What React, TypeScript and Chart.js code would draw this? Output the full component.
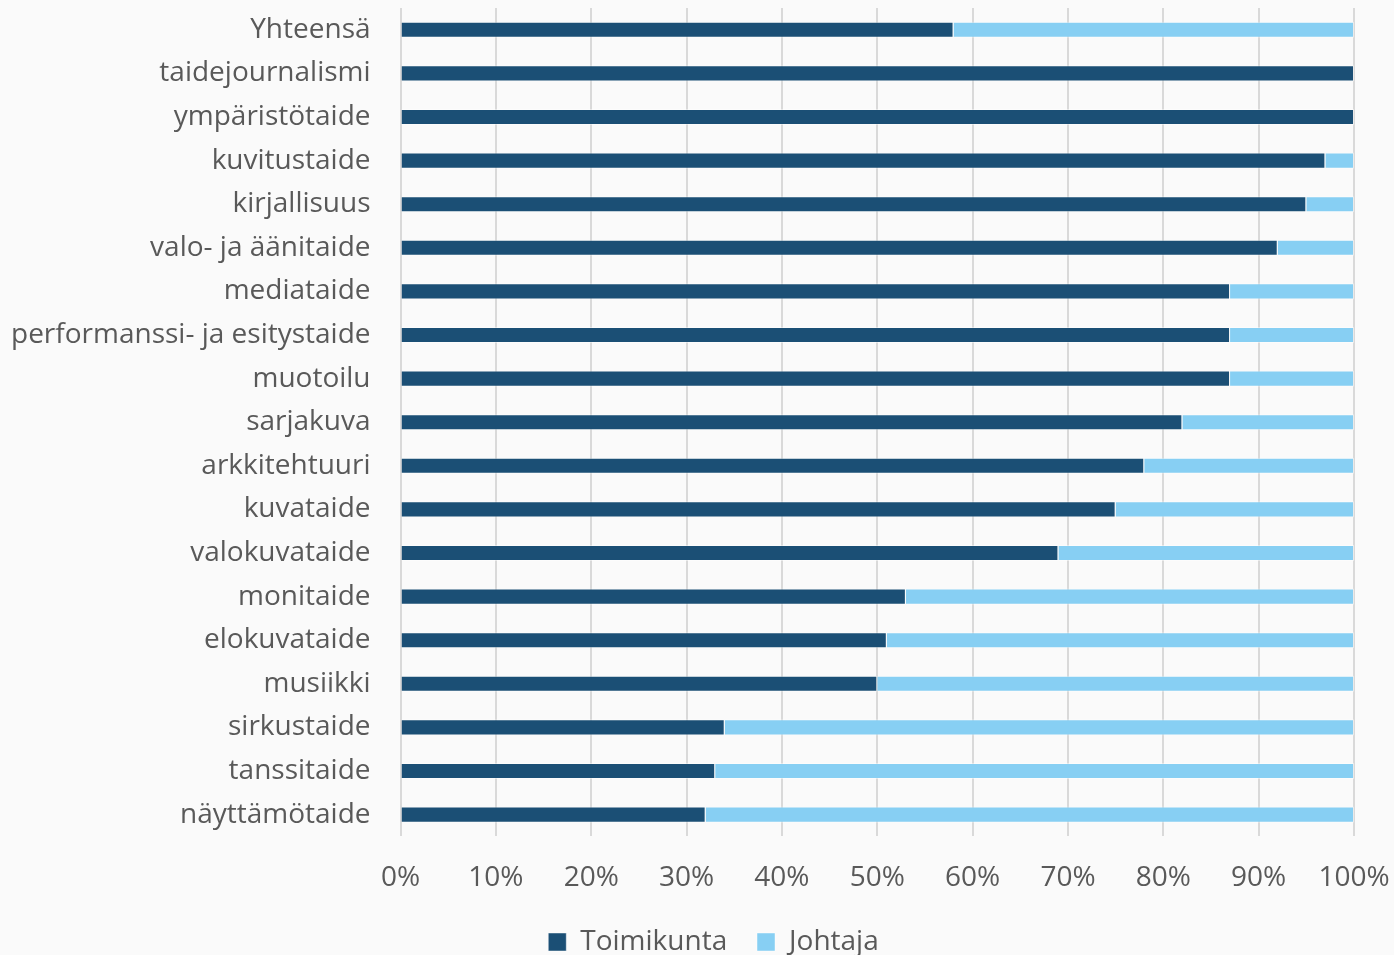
import React, { useEffect, useRef } from "react";
import { Chart, registerables } from "chart.js";

Chart.register(...registerables);

const categories = [
  "Yhteensä",
  "taidejournalismi",
  "ympäristötaide",
  "kuvitustaide",
  "kirjallisuus",
  "valo- ja äänitaide",
  "mediataide",
  "performanssi- ja esitystaide",
  "muotoilu",
  "sarjakuva",
  "arkkitehtuuri",
  "kuvataide",
  "valokuvataide",
  "monitaide",
  "elokuvataide",
  "musiikki",
  "sirkustaide",
  "tanssitaide",
  "näyttämötaide",
];

const toimikunta = [58, 100, 100, 97, 95, 92, 87, 87, 87, 82, 78, 75, 69, 53, 51, 50, 34, 33, 32];
const johtaja = [42, 0, 0, 3, 5, 8, 13, 13, 13, 18, 22, 25, 31, 47, 49, 50, 66, 67, 68];

const seriesNames = ["Toimikunta", "Johtaja"];
const xTicks = [0, 10, 20, 30, 40, 50, 60, 70, 80, 90, 100];

const legendShift = {
  id: "legendShift",
  afterLayout(chart: any) {
    const lg = chart.legend;
    if (lg) {
      lg.left += 31;
      lg.right += 31;
    }
  },
};

export default function App() {
  const ref = useRef<HTMLCanvasElement | null>(null);

  useEffect(() => {
    document.body.style.margin = "0";
    document.body.style.background = "#fafafa";
    if (!ref.current) return;
    const chart = new Chart(ref.current, {
      type: "bar",
      data: {
        labels: categories,
        datasets: [
          {
            label: seriesNames[0],
            data: toimikunta,
            backgroundColor: "#1b4f75",
            borderColor: "rgba(255,255,255,0.45)",
            borderWidth: 1,
            barPercentage: 0.37,
            categoryPercentage: 1,
          },
          {
            label: seriesNames[1],
            data: johtaja,
            backgroundColor: "#87cff3",
            borderColor: "rgba(255,255,255,0.45)",
            borderWidth: 1,
            barPercentage: 0.37,
            categoryPercentage: 1,
          },
        ],
      },
      plugins: [legendShift],
      options: {
        indexAxis: "y",
        animation: false,
        responsive: false,
        maintainAspectRatio: false,
        layout: { padding: { top: 8, right: 40, left: 11, bottom: -11 } },
        scales: {
          x: {
            stacked: true,
            min: 0,
            max: 100,
            afterBuildTicks: (axis: any) => {
              axis.ticks = xTicks.map((v) => ({ value: v }));
            },
            afterFit: (axis: any) => {
              axis.paddingLeft = 0;
              axis.paddingRight = 0;
            },
            ticks: {
              callback: (v: any) => v + "%",
              color: "#595959",
              font: { family: "Open Sans", size: 28 },
              padding: 25,
            },
            grid: { color: "#d9d9d9", lineWidth: 2, drawTicks: false },
            border: { display: false },
          },
          y: {
            stacked: true,
            afterFit: (axis: any) => {
              axis.paddingTop = 0;
              axis.paddingBottom = 0;
            },
            ticks: {
              color: "#595959",
              font: { family: "Open Sans", size: 28 },
              padding: 0,
              autoSkip: false,
            },
            grid: { display: false, drawTicks: true, tickLength: 30 },
            border: { display: false },
          },
        },
        plugins: {
          legend: {
            position: "bottom",
            labels: {
              boxWidth: 18,
              boxHeight: 18,
              color: "#595959",
              font: { family: "Open Sans", size: 28 },
              padding: 8,
              generateLabels: (c: any) => {
                const items = Chart.defaults.plugins.legend.labels.generateLabels(c);
                return items.map((it: any, i: number) =>
                  i < items.length - 1 ? { ...it, text: it.text + "\u00A0\u00A0\u00A0" } : it
                );
              },
            },
          },
          tooltip: { enabled: false },
        },
      },
    });
    return () => chart.destroy();
  }, []);

  return (
    <div style={{ width: 1394, height: 955, background: "#fafafa" }}>
      <canvas ref={ref} width={1394} height={955} style={{ display: "block" }} />
    </div>
  );
}
